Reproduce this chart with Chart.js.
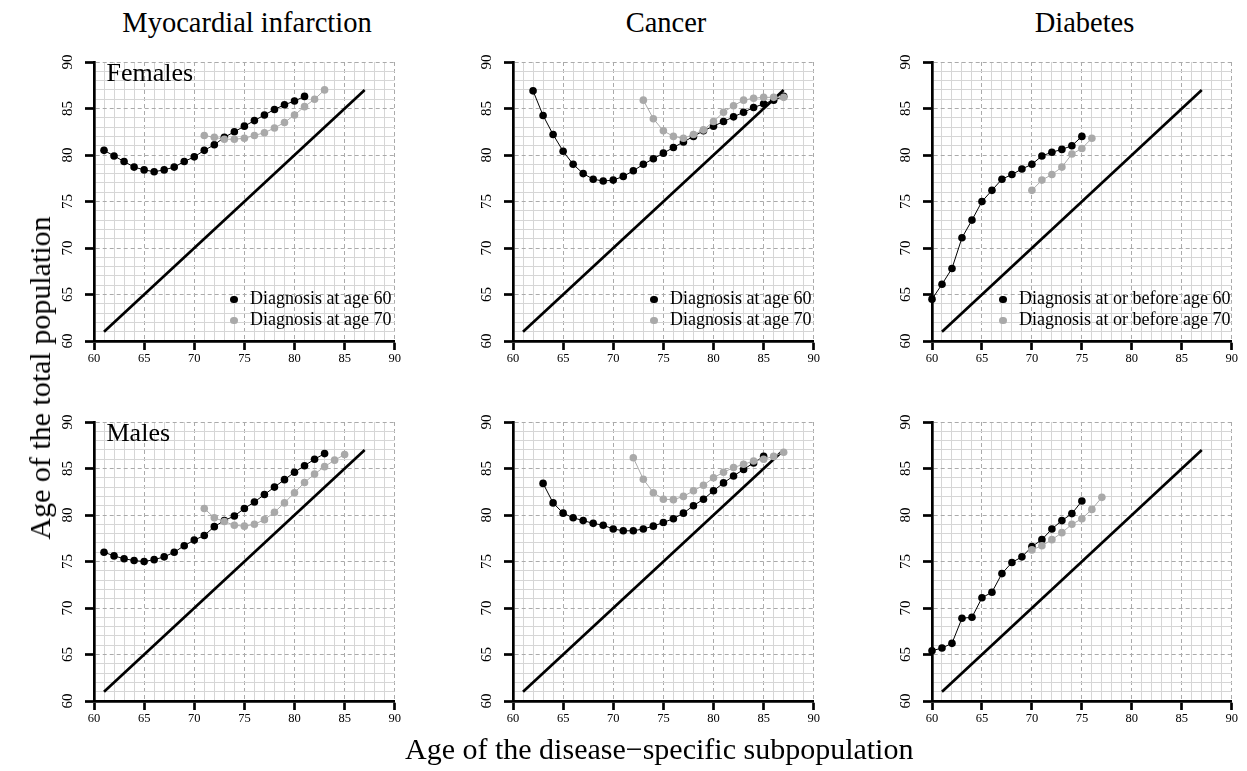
<!DOCTYPE html>
<html>
<head>
<meta charset="utf-8">
<script src="https://cdn.jsdelivr.net/npm/chart.js@4.4.1/dist/chart.umd.min.js"></script>
<style>
  html, body { margin: 0; padding: 0; background: #fff; }
  body { width: 1247px; height: 771px; position: relative; overflow: hidden;
         font-family: "Liberation Serif", "Times New Roman", serif; color: #000; }
  .panel { position: absolute; }
  .txt { position: absolute; white-space: nowrap; line-height: 1; }
  .dot { position: absolute; border-radius: 50%; }
</style>
</head>
<body>
<script>
// ---- data ----
const AXIS_TICKS = [60, 65, 70, 75, 80, 85, 90];
const PANEL_TITLES = ['Myocardial infarction', 'Cancer', 'Diabetes'];
const ROW_LABELS = ['Females', 'Males'];
const LEGEND_60 = ['Diagnosis at age 60', 'Diagnosis at age 60', 'Diagnosis at or before age 60'];
const LEGEND_70 = ['Diagnosis at age 70', 'Diagnosis at age 70', 'Diagnosis at or before age 70'];
const DIAGONAL = [61, 87];

// each curve: first age on the x axis, then one value per year of age
const MI_F_60_FROM = 61;
const MI_F_60 = [80.5, 79.9, 79.3, 78.7, 78.4, 78.2, 78.4, 78.7, 79.3, 79.8, 80.5, 81.1, 81.9, 82.5, 83.1, 83.7, 84.3, 84.9, 85.4, 85.8, 86.3];
const MI_F_70_FROM = 71;
const MI_F_70 = [82.1, 81.9, 81.7, 81.7, 81.8, 82.1, 82.4, 82.9, 83.5, 84.3, 85.2, 86.0, 87.0];

const CA_F_60_FROM = 62;
const CA_F_60 = [86.9, 84.25, 82.2, 80.4, 79.0, 78.0, 77.4, 77.2, 77.3, 77.7, 78.3, 79.0, 79.6, 80.2, 80.8, 81.4, 82.0, 82.6, 83.1, 83.6, 84.1, 84.6, 85.1, 85.5, 85.9, 86.3];
const CA_F_70_FROM = 73;
const CA_F_70 = [85.9, 83.9, 82.6, 82.0, 81.8, 82.2, 82.7, 83.6, 84.6, 85.3, 85.9, 86.1, 86.2, 86.2, 86.2];

const DI_F_60_FROM = 60;
const DI_F_60 = [64.5, 66.1, 67.8, 71.1, 73.0, 75.0, 76.2, 77.4, 77.9, 78.5, 79.0, 79.9, 80.3, 80.6, 81.0, 82.0];
const DI_F_70_FROM = 70;
const DI_F_70 = [76.2, 77.3, 77.9, 78.7, 80.1, 80.7, 81.8];

const MI_M_60_FROM = 61;
const MI_M_60 = [76.0, 75.6, 75.3, 75.1, 75.0, 75.2, 75.5, 76.0, 76.7, 77.3, 77.8, 78.75, 79.4, 79.9, 80.7, 81.4, 82.2, 83.0, 83.8, 84.6, 85.3, 86.0, 86.6];
const MI_M_70_FROM = 71;
const MI_M_70 = [80.7, 79.7, 79.3, 78.9, 78.8, 79.0, 79.5, 80.3, 81.3, 82.4, 83.5, 84.4, 85.2, 85.9, 86.5];

const CA_M_60_FROM = 63;
const CA_M_60 = [83.4, 81.3, 80.2, 79.7, 79.4, 79.1, 78.9, 78.5, 78.3, 78.3, 78.5, 78.8, 79.2, 79.6, 80.2, 81.0, 81.7, 82.6, 83.45, 84.2, 84.9, 85.6, 86.3];
const CA_M_70_FROM = 72;
const CA_M_70 = [86.15, 83.85, 82.4, 81.7, 81.65, 82.0, 82.6, 83.2, 84.0, 84.6, 85.1, 85.45, 85.8, 86.0, 86.3, 86.75];

const DI_M_60_FROM = 60;
const DI_M_60 = [65.4, 65.7, 66.2, 68.9, 69.0, 71.1, 71.7, 73.7, 74.9, 75.5, 76.6, 77.35, 78.5, 79.4, 80.15, 81.5];
const DI_M_70_FROM = 70;
const DI_M_70 = [76.25, 76.7, 77.35, 78.1, 79.0, 79.6, 80.6, 81.9];

// ---- layout (pixels of the plot areas) ----
const COL_LEFT = [94, 513, 932];
const COL_WIDTH = [306, 306, 305];
const ROW_TOP = [56, 416];
const PLOT_H = 285;
const Y_AXIS_W = 60, X_AXIS_H = 45, PAD_TOP = 12, PAD_RIGHT = 10;

const BLACK = '#000000';
const GREY = '#a9a9a9';

const panels = [
    { row: 0, col: 0, s60: [MI_F_60_FROM, MI_F_60], s70: [MI_F_70_FROM, MI_F_70] },
    { row: 0, col: 1, s60: [CA_F_60_FROM, CA_F_60], s70: [CA_F_70_FROM, CA_F_70] },
    { row: 0, col: 2, s60: [DI_F_60_FROM, DI_F_60], s70: [DI_F_70_FROM, DI_F_70] },
    { row: 1, col: 0, s60: [MI_M_60_FROM, MI_M_60], s70: [MI_M_70_FROM, MI_M_70] },
    { row: 1, col: 1, s60: [CA_M_60_FROM, CA_M_60], s70: [CA_M_70_FROM, CA_M_70] },
    { row: 1, col: 2, s60: [DI_M_60_FROM, DI_M_60], s70: [DI_M_70_FROM, DI_M_70] },
];

function toPoints(from, values) {
    return values.map((v, i) => ({ x: from + i, y: v }));
}

const isMajor = c => c.tick !== undefined && AXIS_TICKS.includes(c.tick.value);

function axis(horizontal) {
    return {
        type: 'linear',
        min: 60,
        max: 90,
        afterFit: s => {
            if (horizontal) s.height = X_AXIS_H; else s.width = Y_AXIS_W;
        },
        grid: {
            color: c => isMajor(c) ? '#aaaaaa' : '#d6d6d6',
            lineWidth: 1,
            drawTicks: true,
            tickLength: 9,
            tickColor: '#000',
            tickWidth: c => isMajor(c) ? 2.7 : 0,
        },
        border: {
            display: true,
            color: '#000',
            width: 2.7,
            dash: c => isMajor(c) ? [4, 3] : [],
        },
        ticks: {
            stepSize: 1,
            autoSkip: false,
            minRotation: horizontal ? 0 : 90,
            maxRotation: horizontal ? 0 : 90,
            crossAlign: 'center',
            padding: horizontal ? 9 : 9,
            color: '#000',
            font: { family: 'Liberation Serif', size: horizontal ? 12.5 : 15 },
            callback: v => AXIS_TICKS.includes(v) ? String(v) : '',
        }
    };
}

function addText(str, left, baseline, size, extra) {
    const el = document.createElement('div');
    el.className = 'txt';
    el.textContent = str;
    el.style.fontSize = size + 'px';
    el.style.left = left + 'px';
    el.style.top = (baseline - 0.8375 * size) + 'px';
    if (extra) Object.assign(el.style, extra);
    document.body.appendChild(el);
    return el;
}

function addDot(cx, cy, r, color) {
    const el = document.createElement('div');
    el.className = 'dot';
    el.style.left = (cx - r) + 'px';
    el.style.top = (cy - r) + 'px';
    el.style.width = el.style.height = (2 * r) + 'px';
    el.style.background = color;
    document.body.appendChild(el);
}

panels.forEach(p => {
    const left = COL_LEFT[p.col] - Y_AXIS_W;
    const top = ROW_TOP[p.row] - PAD_TOP;
    const wrap = document.createElement('div');
    wrap.className = 'panel';
    wrap.style.left = left + 'px';
    wrap.style.top = top + 'px';
    wrap.style.width = (COL_WIDTH[p.col] + Y_AXIS_W + PAD_RIGHT) + 'px';
    wrap.style.height = (PLOT_H + PAD_TOP + X_AXIS_H) + 'px';
    const canvas = document.createElement('canvas');
    wrap.appendChild(canvas);
    document.body.appendChild(wrap);

    new Chart(canvas.getContext('2d'), {
        type: 'scatter',
        data: {
            datasets: [
                {
                    data: toPoints(p.s70[0], p.s70[1]),
                    showLine: true, borderColor: GREY, borderWidth: 1,
                    pointBackgroundColor: GREY, pointBorderWidth: 0, pointRadius: 3.8,
                    clip: false,
                },
                {
                    data: toPoints(p.s60[0], p.s60[1]),
                    showLine: true, borderColor: BLACK, borderWidth: 1,
                    pointBackgroundColor: BLACK, pointBorderWidth: 0, pointRadius: 3.8,
                    clip: false,
                },
                {
                    data: DIAGONAL.map(v => ({ x: v, y: v })),
                    showLine: true, borderColor: BLACK, borderWidth: 2.7,
                    pointRadius: 0,
                },
            ]
        },
        options: {
            responsive: true,
            maintainAspectRatio: false,
            animation: false,
            events: [],
            layout: { padding: { top: PAD_TOP, right: PAD_RIGHT, left: 0, bottom: 0 } },
            plugins: { legend: { display: false }, tooltip: { enabled: false } },
            elements: { line: { tension: 0 } },
            scales: { x: axis(true), y: axis(false) }
        }
    });
});

// column titles
PANEL_TITLES.forEach((t, i) => {
    addText(t, COL_LEFT[i] + COL_WIDTH[i] / 2, 33, 28.5, { transform: 'translateX(-50%)' });
});

// row labels inside the left panels
ROW_LABELS.forEach((t, r) => addText(t, 106.5, ROW_TOP[r] + 26, 26));

// legends (top row only)
const LEGEND_LEFT = [250, 670, 1019];
LEGEND_LEFT.forEach((x, i) => {
    addDot(x - 16, 299.5, 3.6, BLACK);
    addText(LEGEND_60[i], x, 304, 18);
    addDot(x - 16, 320.5, 3.6, GREY);
    addText(LEGEND_70[i], x, 325, 18);
});

// axis titles
addText('Age of the total population', 39.9, 378 + 15, 30,
    { transform: 'translate(-50%, -50%) rotate(-90deg)', top: '378px' });
addText('Age of the disease\u2212specific subpopulation', 405, 759, 30);
</script>
</body>
</html>
